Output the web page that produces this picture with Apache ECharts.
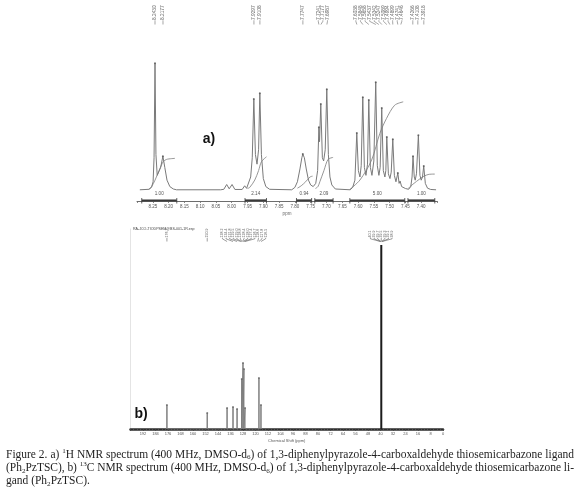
<!DOCTYPE html>
<html>
<head>
<meta charset="utf-8">
<title>Ph2PzTSC NMR spectra</title>
<script src="https://cdn.jsdelivr.net/npm/echarts@6/dist/echarts.min.js"></script>
<style>
    html, body { margin: 0; padding: 0; background: #fff; }
    #main { width: 580px; height: 490px; }
</style>
</head>
<body>
<div id="main"></div>
<script>
// ---- a) 1H spectrum: [ppm, relative intensity] ----
var traceA = [
    [8.291,0],[8.262,0.3],[8.254,1.5],[8.249,5],[8.246,20],[8.243,79],[8.240,22],[8.236,9],[8.231,9.5],[8.225,14],
    [8.218,21],[8.212,14],[8.205,6],[8.196,2],[8.185,0.5],[8.175,0],
    [8.035,0],[8.025,0.3],[8.016,3.3],[8.008,0.6],[7.999,3.3],[7.990,0.2],[7.967,0.2],[7.959,2.5],[7.953,0.9],
    [7.948,2],[7.940,8],[7.935,20],[7.930,56.6],[7.925,22],[7.920,16],[7.915,25],[7.911,60.3],[7.906,22],[7.900,7],
    [7.892,2],[7.880,0.3],[7.810,0],
    [7.800,1.5],[7.792,5],[7.784,13],[7.778,20],[7.775,22.3],[7.770,20],[7.764,13],[7.757,6],[7.750,3],[7.742,2],
    [7.734,4],[7.728,12],[7.724,39],[7.722,30],[7.718,53.5],[7.713,20],[7.709,18],[7.704,25],[7.699,62.8],[7.694,22],
    [7.689,8],[7.683,3],[7.672,0.5],[7.625,0],
    [7.617,1.5],[7.610,6],[7.604,35.4],[7.599,12],[7.594,8],[7.590,15],[7.585,57.8],[7.580,14],[7.575,9],[7.570,16],
    [7.566,56],[7.561,14],[7.556,9],[7.550,18],[7.544,67.2],[7.539,15],[7.534,9],[7.530,14],[7.525,51],[7.520,12],
    [7.515,8],[7.512,12],[7.509,32.9],[7.504,10],[7.499,7],[7.495,11],[7.490,31.6],[7.485,9],[7.480,5],[7.474,10.5],
    [7.470,4],[7.467,5.5],[7.462,2],[7.456,2.5],[7.450,0.8],[7.440,0.3],
    [7.433,2],[7.429,8],[7.426,21],[7.422,8],[7.419,6],[7.415,10],[7.409,34],[7.404,9],[7.400,6],[7.396,8],
    [7.392,14.8],[7.387,4],[7.380,1],[7.370,0.2],[7.353,0]
];
// integral curves (step traces)
var integralsA = [
    [[8.262,0.5],[8.254,1.9],[8.243,6],[8.230,12],[8.217,17.5],[8.206,19],[8.180,19.6]],
    [[7.950,0.8],[7.943,1.5],[7.927,6.1],[7.915,12],[7.906,17.5],[7.890,20.6]],
    [[7.792,1],[7.780,2.5],[7.766,5],[7.752,8],[7.744,8.5]],
    [[7.735,0.8],[7.727,2],[7.721,5],[7.708,12],[7.695,19],[7.679,20.2]],
    [[7.626,0.3],[7.594,6.1],[7.557,18.6],[7.531,35.2],[7.510,44.5],[7.484,52.8],[7.457,54.9]],
    [[7.440,0.8],[7.436,1.9],[7.394,8.2],[7.373,9.7],[7.357,9.8]]
];
var integralRangesA = [[8.285,8.174],[7.958,7.890],[7.795,7.747],[7.737,7.679],[7.626,7.452],[7.442,7.357]];
var integralValuesA = ['1.00','2.14','0.94','2.09','5.00','1.00'];
// picked peaks, grouped the way the labels are fanned
var pickedA = [
    [8.2430,8.2177],
    [7.9297,7.9108],
    [7.7747],
    [7.7241,7.7177,7.6987],
    [7.6038,7.5848,7.5658,7.5437,7.5342,7.5247,7.5089,7.4994,7.4899,7.4741,7.4646],
    [7.4266,7.4108,7.3918]
];
var apexA = [[8.243,79],[8.218,21],[7.930,56.6],[7.911,60.3],[7.775,22.3],[7.724,39],[7.718,53.5],[7.699,62.8],
    [7.604,35.4],[7.585,57.8],[7.566,56],[7.544,67.2],[7.525,51],[7.509,32.9],[7.490,31.6],[7.474,10.5],
    [7.426,21],[7.409,34],[7.392,14.8]];
var tickLabelsA = [8.25,8.20,8.15,8.10,8.05,8.00,7.95,7.90,7.85,7.80,7.75,7.70,7.65,7.60,7.55,7.50,7.45,7.40];

// ---- b) 13C spectrum: [ppm, height] ----
var peaksB = [[176.7,12],[150.9,8],[138.2,10.5],[134.4,11],[131.8,10],[128.8,25],[128.0,33],[127.4,30],
    [126.7,10.5],[117.8,25.5],[116.5,12]];
var solventB = [[39.5,92]];
var pickedB = [
    [176.7],
    [150.9],
    [138.2,134.4,131.8,129.5,129.0,128.8,128.4,128.0,127.4,126.7,118.6,117.8,116.5],
    [40.15,39.94,39.73,39.52,39.31,39.10,38.89]
];
var tickLabelsB = [192,184,176,168,160,152,144,136,128,120,112,104,96,88,80,72,64,56,48,40,32,24,16,8,0];

var captionLines = [
    [['Figure 2. a) '],['1','sup'],['H NMR spectrum (400 MHz, DMSO-d'],['6','sub'],[') of 1,3-diphenylpyrazole-4-carboxaldehyde thiosemicarbazone ligand']],
    [['(Ph'],['2','sub'],['PzTSC), b) '],['13','sup'],['C NMR spectrum (400 MHz, DMSO-d'],['6','sub'],[') of 1,3-diphenylpyrazole-4-carboxaldehyde thiosemicarbazone li-']],
    [['gand (Ph'],['2','sub'],['PzTSC).']]
];

var grey = '#7a7a7a';
var sans = '"Liberation Sans", Arial, sans-serif';

function txtStyle(text, font, fill, align, valign) {
    return { text: text, font: font, fill: fill, align: align, verticalAlign: valign,
        textAlign: align, textVerticalAlign: valign };
}

// flatten groups to [ppm, 0, group, index]
function flatPicks(groups) {
    var d = [];
    groups.forEach(function (g, gi) {
        g.forEach(function (p, i) { d.push([p, 0, gi, i]); });
    });
    return d;
}

// vertical peak labels above the spectrum, spread when crowded
function pickLabels(groups, opt) {
    return function (params, api) {
        var grp = groups[api.value(2)], i = api.value(3), n = grp.length;
        var px = grp.map(function (p) { return api.coord([p, 0])[0]; });
        var lx = px[i];
        for (var k = 1; k < n; k++) {
            if (px[k] - px[k - 1] < opt.gap) {
                lx = (px[0] + px[n - 1]) / 2 + (i - (n - 1) / 2) * opt.gap;
                break;
            }
        }
        var top = params.coordSys.y;
        var yb = top + opt.textBottom, yl = top + opt.lineEnd;
        return {
            type: 'group',
            children: [
                { type: 'text', x: lx, y: yb, rotation: Math.PI / 2,
                  style: txtStyle(grp[i].toFixed(opt.digits), opt.font, opt.color, 'left', 'middle') },
                { type: 'polyline', shape: { points: [[lx, yb + 0.3], [lx, yb + 1.3], [px[i], yl]] },
                  style: { stroke: opt.color, lineWidth: 0.6, fill: null } }
            ]
        };
    };
}

// sticks for the 13C peaks
function sticks(list) {
    var d = [];
    list.forEach(function (p) { d.push([p[0], 0], [p[0], p[1]], [p[0], 0]); });
    return d;
}

// split caption segments into words of pieces
function captionWords(line) {
    var words = [[]];
    line.forEach(function (seg) {
        var kind = seg[1] || 'n';
        if (kind !== 'n') { words[words.length - 1].push({ t: seg[0], k: kind }); return; }
        seg[0].split(' ').forEach(function (part, pi) {
            if (pi > 0) words.push([]);
            if (part) words[words.length - 1].push({ t: part, k: kind });
        });
    });
    return words.filter(function (w) { return w.length; });
}

// justified caption, measured word by word
function captionGraphics() {
    var ctx = document.createElement('canvas').getContext('2d');
    var family = '"Liberation Serif", "Times New Roman", serif';
    var left = 6, right = 574, y0 = 455, lead = 13.2;
    var size = 12;
    function fontOf(k) { return (k === 'n' ? size : size * 0.62) + 'px ' + family; }
    function measure(words) {
        var total = 0;
        words.forEach(function (w) {
            w.forEach(function (p) { ctx.font = fontOf(p.k); p.w = ctx.measureText(p.t).width; total += p.w; });
        });
        ctx.font = fontOf('n');
        return { total: total, space: ctx.measureText(' ').width };
    }
    var lines = captionLines.map(captionWords);
    // fit the first line at its natural spacing
    var m0 = measure(lines[0]);
    size = size * (right - left) / (m0.total + (lines[0].length - 1) * m0.space);
    var out = [];
    lines.forEach(function (words, li) {
        var m = measure(words);
        var justify = li < lines.length - 1;
        var gapW = justify ? (right - left - m.total) / (words.length - 1) : m.space;
        var x = left, y = y0 + li * lead;
        words.forEach(function (w) {
            w.forEach(function (p) {
                var dy = p.k === 'sup' ? -size * 0.33 : (p.k === 'sub' ? size * 0.22 : 0);
                out.push({ type: 'text', x: x, y: y + dy, silent: true,
                    style: txtStyle(p.t, fontOf(p.k), '#1e1e1e', 'left', 'middle') });
                x += p.w;
            });
            x += gapW;
        });
    });
    return out;
}

var chart = echarts.init(document.getElementById('main'), null, { renderer: 'canvas' });

var series = [
    { type: 'line', xAxisIndex: 0, yAxisIndex: 0, data: traceA, showSymbol: false, z: 3,
      lineStyle: { color: grey, width: 1 } },
    { type: 'scatter', xAxisIndex: 0, yAxisIndex: 0, data: apexA, symbolSize: 2, z: 4,
      itemStyle: { color: '#555' } },
    { type: 'custom', xAxisIndex: 0, yAxisIndex: 0, clip: false, silent: true, z: 5,
      data: integralRangesA.map(function (r, i) { return [r[0], r[1], -7, i]; }),
      encode: { x: [0, 1], y: 2 },
      renderItem: function (params, api) {
          var a = api.coord([api.value(0), -7]), b = api.coord([api.value(1), -7]);
          var y = a[1], c = '#3a3a3a';
          return { type: 'group', children: [
              { type: 'line', shape: { x1: a[0], y1: y - 0.6, x2: b[0], y2: y - 0.6 }, style: { stroke: c, lineWidth: 2 } },
              { type: 'line', shape: { x1: a[0], y1: y - 3, x2: a[0], y2: y + 2.5 }, style: { stroke: c, lineWidth: 0.8 } },
              { type: 'line', shape: { x1: b[0], y1: y - 3, x2: b[0], y2: y + 2.5 }, style: { stroke: c, lineWidth: 0.8 } },
              { type: 'text', x: (a[0] + b[0]) / 2, y: y - 7.5,
                style: txtStyle(integralValuesA[api.value(3)], '4.6px ' + sans, '#555', 'center', 'middle') }
          ] };
      } },
    { type: 'custom', xAxisIndex: 0, yAxisIndex: 0, clip: false, silent: true, z: 5,
      data: flatPicks(pickedA), encode: { x: 0, y: 1 },
      renderItem: pickLabels(pickedA, { gap: 4.6, textBottom: -8, lineEnd: -3.5, digits: 4,
          font: '4.8px ' + sans, color: '#6a6a6a' }) },
    { type: 'line', xAxisIndex: 1, yAxisIndex: 1, data: sticks(peaksB), showSymbol: false, z: 3,
      lineStyle: { color: '#7d7d7d', width: 1 } },
    { type: 'line', xAxisIndex: 1, yAxisIndex: 1, data: sticks(solventB), showSymbol: false, z: 3,
      lineStyle: { color: '#1c1c1c', width: 2 } },
    { type: 'scatter', xAxisIndex: 1, yAxisIndex: 1, data: peaksB, symbolSize: 2, z: 4,
      itemStyle: { color: '#666' } },
    { type: 'custom', xAxisIndex: 1, yAxisIndex: 1, clip: false, silent: true, z: 5,
      data: flatPicks(pickedB), encode: { x: 0, y: 1 },
      renderItem: pickLabels(pickedB, { gap: 3.6, textBottom: 8.5, lineEnd: 12.5, digits: 1,
          font: '3.6px ' + sans, color: '#5a5a5a' }) }
];

integralsA.forEach(function (seg) {
    series.push({ type: 'line', xAxisIndex: 0, yAxisIndex: 0, data: seg, showSymbol: false, smooth: 0.3, z: 2,
        lineStyle: { color: '#8a8a8a', width: 0.9 } });
});

var option = {
    animation: false,
    backgroundColor: '#ffffff',
    textStyle: { fontFamily: sans },
    grid: [
        { left: 137, top: 28, width: 300, height: 173 },
        { left: 130.5, top: 229, width: 312.5, height: 200 }
    ],
    xAxis: [
        { gridIndex: 0, type: 'value', inverse: true, min: 7.35, max: 8.30, interval: 0.05,
          name: 'ppm', nameLocation: 'middle', nameGap: 10,
          nameTextStyle: { fontSize: 4.5, color: '#666' },
          axisLine: { onZero: false, lineStyle: { color: '#6d6d6d', width: 1 } },
          axisTick: { length: 2, lineStyle: { color: '#6d6d6d', width: 0.8 } },
          axisLabel: { customValues: tickLabelsA, fontSize: 4.5, color: '#555', margin: 3,
              formatter: function (v) { return v.toFixed(2); } },
          splitLine: { show: false } },
        { gridIndex: 1, type: 'value', inverse: true, min: 0, max: 200, interval: 8,
          name: 'Chemical Shift (ppm)', nameLocation: 'middle', nameGap: 9.5,
          nameTextStyle: { fontSize: 4, color: '#555' },
          axisLine: { onZero: false, lineStyle: { color: '#2e2e2e', width: 2.5 } },
          axisTick: { length: 2, lineStyle: { color: '#444', width: 0.8 } },
          minorTick: { show: true, splitNumber: 4, length: 1.5, lineStyle: { color: '#666', width: 0.6 } },
          axisLabel: { customValues: tickLabelsB, fontSize: 4, color: '#555', margin: 3 },
          splitLine: { show: false } }
    ],
    yAxis: [
        { gridIndex: 0, type: 'value', min: -7, max: 101, show: false },
        { gridIndex: 1, type: 'value', min: 0, max: 100,
          axisLine: { show: true, onZero: false, lineStyle: { color: '#e4e4e4', width: 1 } },
          axisTick: { show: false }, axisLabel: { show: false }, splitLine: { show: false } }
    ],
    graphic: [
        { type: 'text', x: 209, y: 139, silent: true,
          style: txtStyle('a)', 'bold 14px ' + sans, '#111', 'center', 'middle') },
        { type: 'text', x: 141, y: 414, silent: true,
          style: txtStyle('b)', 'bold 14px ' + sans, '#111', 'center', 'middle') },
        { type: 'text', x: 133, y: 229, silent: true,
          style: txtStyle('RA-JCO-TIODPSEM@BS-001-1R.esp', '3.6px ' + sans, '#444', 'left', 'middle') }
    ].concat(captionGraphics()),
    series: series
};

chart.setOption(option);
</script>
</body>
</html>
